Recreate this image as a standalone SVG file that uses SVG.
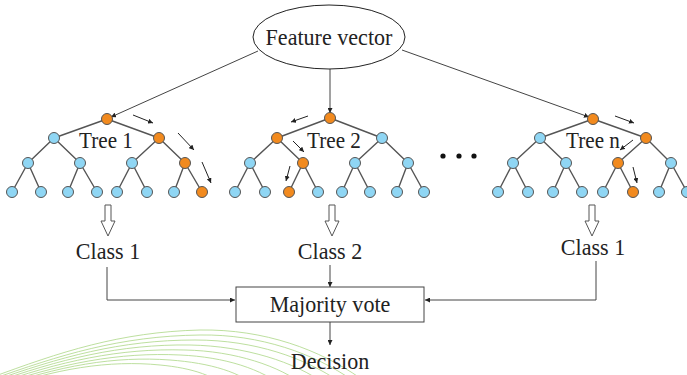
<svg xmlns="http://www.w3.org/2000/svg" width="687" height="375" viewBox="0 0 687 375">
<style>
text{font-family:"Liberation Serif","Times New Roman",serif;fill:#222;text-anchor:middle}
.lbl{font-size:24px}
.tl{font-size:23px}
.e{stroke:#555;stroke-width:1.4;fill:none}
.b{fill:#8fd6f4;stroke:#555;stroke-width:1}
.o{fill:#f28a1e;stroke:#555;stroke-width:1}
.c{stroke:#444;stroke-width:1;fill:none}
.s{stroke:#222;stroke-width:1;fill:none}
.g{stroke:#b2d98e;stroke-width:1;fill:none;opacity:0.85}
.h{fill:#fff;stroke:#555;stroke-width:1}
</style>
<defs>
<marker id="ah" viewBox="0 0 10 10" refX="10" refY="5" markerWidth="5" markerHeight="5" orient="auto" markerUnits="userSpaceOnUse"><path d="M0,0 L10,5 L0,10 z" fill="#222"/></marker>
</defs>
<g id="background">
<path class="g" d="M-10,378 C60,352 120,332 200,330 C265,329 320,350 360,378"/>
<path class="g" d="M-10,380 C60,355 120,336 200,335 C260,334 315,354 352,380"/>
<path class="g" d="M-10,382 C60,357 120,340 195,340 C255,340 305,358 340,382"/>
<path class="g" d="M-10,384 C60,359 120,344 190,345 C245,346 295,362 325,384"/>
<path class="g" d="M-10,386 C60,361 120,348 185,350 C235,351 280,366 305,386"/>
<path class="g" d="M-10,388 C60,363 120,352 180,355 C225,357 262,369 285,388"/>
<path class="g" d="M-10,390 C60,365 115,356 170,360 C210,363 242,372 260,390"/>
<path class="g" d="M-10,392 C55,368 110,360 160,365 C192,368 218,376 230,392"/>
</g>
<g id="connectors">
<line class="c" x1="258" y1="51" x2="111" y2="117" marker-end="url(#ah)"/>
<line class="c" x1="330" y1="69" x2="330" y2="113" marker-end="url(#ah)"/>
<line class="c" x1="402" y1="50" x2="589" y2="117" marker-end="url(#ah)"/>
<path class="c" d="M107,267 V300 H235" marker-end="url(#ah)"/>
<line class="c" x1="330" y1="265" x2="330" y2="287" marker-end="url(#ah)"/>
<path class="c" d="M596,261 V300 H425" marker-end="url(#ah)"/>
<line class="c" x1="330" y1="322" x2="330" y2="345" marker-end="url(#ah)"/>
<path class="h" d="M105,205 h6 v16 h4 l-7,15 l-7,-15 h4 z"/>
<path class="h" d="M329,205 h6 v16 h4 l-7,15 l-7,-15 h4 z"/>
<path class="h" d="M589,205 h6 v16 h4 l-7,15 l-7,-15 h4 z"/>
</g>
<g id="feature-vector">
<ellipse cx="329" cy="37" rx="76" ry="32" fill="#fff" stroke="#222" stroke-width="1"/>
<text class="lbl" transform="translate(329,45) scale(0.92,1)">Feature vector</text>
</g>
<g id="tree-1">
<path class="e" d="M107,119 L54,138 M107,119 L159,138 M54,138 L28,163 M54,138 L80,163 M159,138 L132,163 M159,138 L185,163 M28,163 L12,192 M28,163 L41,192 M80,163 L68,192 M80,163 L97,192 M132,163 L117,192 M132,163 L147,192 M185,163 L174,192 M185,163 L202,192"/>
<circle class="o" cx="107" cy="119" r="5.5"/>
<circle class="b" cx="54" cy="138" r="5.5"/><circle class="o" cx="159" cy="138" r="5.5"/>
<circle class="b" cx="28" cy="163" r="5.5"/><circle class="b" cx="80" cy="163" r="5.5"/><circle class="b" cx="132" cy="163" r="5.5"/><circle class="o" cx="185" cy="163" r="5.5"/>
<circle class="b" cx="12" cy="192" r="5.5"/><circle class="b" cx="41" cy="192" r="5.5"/><circle class="b" cx="68" cy="192" r="5.5"/><circle class="b" cx="97" cy="192" r="5.5"/><circle class="b" cx="117" cy="192" r="5.5"/><circle class="b" cx="147" cy="192" r="5.5"/><circle class="b" cx="174" cy="192" r="5.5"/><circle class="o" cx="202" cy="192" r="5.5"/>
<line class="s" x1="133" y1="115" x2="153" y2="123" marker-end="url(#ah)"/>
<line class="s" x1="178" y1="133" x2="194" y2="150" marker-end="url(#ah)"/>
<line class="s" x1="202" y1="162" x2="211" y2="183" marker-end="url(#ah)"/>
<text class="tl" transform="translate(106,148) scale(0.92,1)">Tree 1</text>
</g>
<g id="tree-2">
<path class="e" d="M330,118 L277,138 M330,118 L382,138 M277,138 L250,163 M277,138 L303,163 M382,138 L355,163 M382,138 L408,163 M250,163 L235,192 M250,163 L265,192 M303,163 L289,192 M303,163 L318,192 M355,163 L342,192 M355,163 L370,192 M408,163 L397,192 M408,163 L424,192"/>
<circle class="o" cx="330" cy="118" r="5.5"/>
<circle class="o" cx="277" cy="138" r="5.5"/><circle class="b" cx="382" cy="138" r="5.5"/>
<circle class="b" cx="250" cy="163" r="5.5"/><circle class="o" cx="303" cy="163" r="5.5"/><circle class="b" cx="355" cy="163" r="5.5"/><circle class="b" cx="408" cy="163" r="5.5"/>
<circle class="b" cx="235" cy="192" r="5.5"/><circle class="b" cx="265" cy="192" r="5.5"/><circle class="o" cx="289" cy="192" r="5.5"/><circle class="b" cx="318" cy="192" r="5.5"/><circle class="b" cx="342" cy="192" r="5.5"/><circle class="b" cx="370" cy="192" r="5.5"/><circle class="b" cx="397" cy="192" r="5.5"/><circle class="b" cx="424" cy="192" r="5.5"/>
<line class="s" x1="308" y1="116" x2="291" y2="122" marker-end="url(#ah)"/>
<line class="s" x1="293" y1="141" x2="304" y2="152" marker-end="url(#ah)"/>
<line class="s" x1="290" y1="166" x2="286" y2="181" marker-end="url(#ah)"/>
<text class="tl" transform="translate(334,148) scale(0.92,1)">Tree 2</text>
</g>
<g id="ellipsis">
<circle cx="443" cy="156" r="2.6" fill="#111"/>
<circle cx="459" cy="156" r="2.6" fill="#111"/>
<circle cx="474" cy="156" r="2.6" fill="#111"/>
</g>
<g id="tree-n">
<path class="e" d="M593,119 L540,138 M593,119 L646,138 M540,138 L513,163 M540,138 L566,163 M646,138 L618,163 M646,138 L671,163 M513,163 L498,192 M513,163 L528,192 M566,163 L553,192 M566,163 L582,192 M618,163 L603,192 M618,163 L633,192 M671,163 L659,192 M671,163 L687,192"/>
<circle class="o" cx="593" cy="119" r="5.5"/>
<circle class="b" cx="540" cy="138" r="5.5"/><circle class="o" cx="646" cy="138" r="5.5"/>
<circle class="b" cx="513" cy="163" r="5.5"/><circle class="b" cx="566" cy="163" r="5.5"/><circle class="o" cx="618" cy="163" r="5.5"/><circle class="b" cx="671" cy="163" r="5.5"/>
<circle class="b" cx="498" cy="192" r="5.5"/><circle class="b" cx="528" cy="192" r="5.5"/><circle class="b" cx="553" cy="192" r="5.5"/><circle class="b" cx="582" cy="192" r="5.5"/><circle class="b" cx="603" cy="192" r="5.5"/><circle class="o" cx="633" cy="192" r="5.5"/><circle class="b" cx="659" cy="192" r="5.5"/><circle class="b" cx="687" cy="192" r="5.5"/>
<line class="s" x1="615" y1="116" x2="634" y2="123" marker-end="url(#ah)"/>
<line class="s" x1="633" y1="140" x2="620" y2="150" marker-end="url(#ah)"/>
<line class="s" x1="633" y1="167" x2="637" y2="183" marker-end="url(#ah)"/>
<text class="tl" transform="translate(593,148) scale(0.92,1)">Tree n</text>
</g>
<g id="class-1-left"><text class="lbl" transform="translate(108,259) scale(0.92,1)">Class 1</text></g>
<g id="class-2"><text class="lbl" transform="translate(330,259) scale(0.92,1)">Class 2</text></g>
<g id="class-1-right"><text class="lbl" transform="translate(593,255) scale(0.92,1)">Class 1</text></g>
<g id="majority-vote">
<rect x="236" y="287" width="188" height="35" fill="#fff" stroke="#444" stroke-width="1"/>
<text class="lbl" transform="translate(330,312) scale(0.92,1)">Majority vote</text>
</g>
<g id="decision"><text class="lbl" transform="translate(330,369) scale(0.92,1)">Decision</text></g>
</svg>
